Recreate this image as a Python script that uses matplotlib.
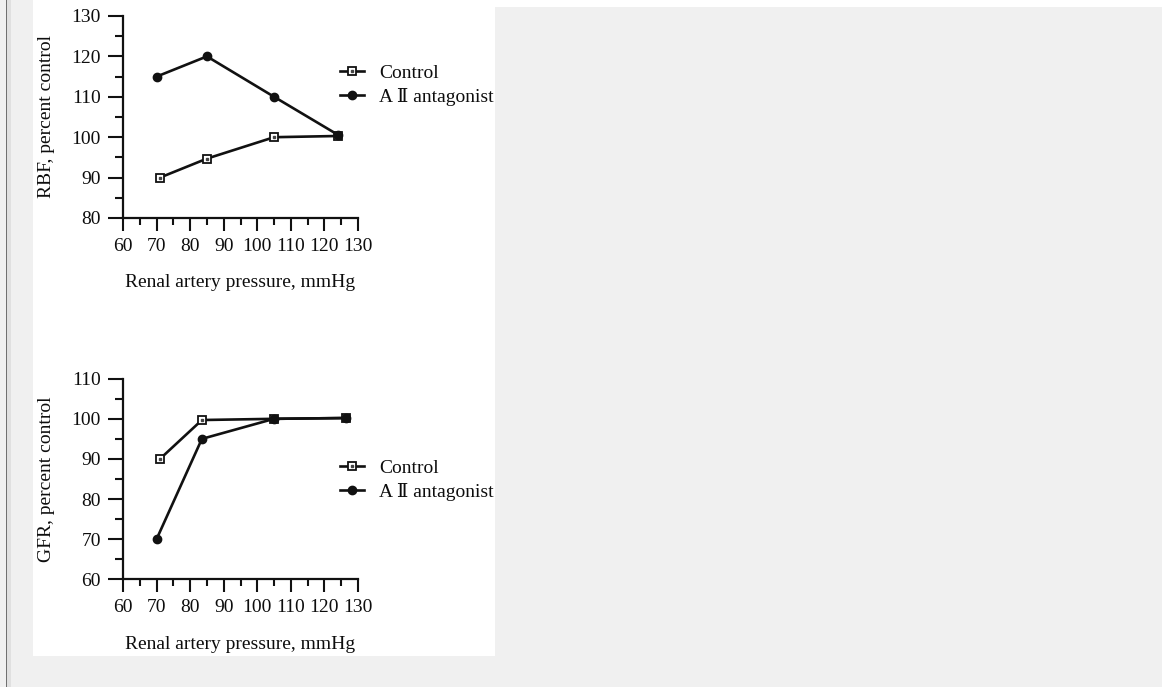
import matplotlib
matplotlib.use('Agg')
import matplotlib.pyplot as plt
from matplotlib.patches import Rectangle
from matplotlib.legend_handler import HandlerTuple
from matplotlib.ticker import MultipleLocator

plt.rcParams['font.family'] = ['Liberation Serif', 'DejaVu Serif', 'DejaVu Sans']

# ---------------- data ----------------
x_label = "Renal artery pressure, mmHg"
rbf_label = "RBF, percent control"
gfr_label = "GFR, percent control"
series_names = ["Control", "A \u2161 antagonist"]

rbf_pressure_control = [71, 85, 105, 124]
rbf_control = [90, 94.7, 100, 100.3]
rbf_pressure_antag = [70, 85, 105, 124]
rbf_antag = [115, 120, 110, 100.6]

gfr_pressure_control = [71, 83.5, 105, 126.5]
gfr_control = [90, 99.7, 100, 100.2]
gfr_pressure_antag = [70, 83.5, 105, 126.5]
gfr_antag = [70, 95, 100, 100.2]

x_range = (60, 130)
rbf_range = (80, 130)
gfr_range = (60, 110)

# ---------------- figure ----------------
W, H = 1162, 687
fig = plt.figure(figsize=(W / 100, H / 100), dpi=100)
fig.patch.set_facecolor('#f0f0f0')


def px_rect(x0, y0, x1, y1, color):
    fig.patches.append(Rectangle((x0 / W, 1 - y1 / H), (x1 - x0) / W, (y1 - y0) / H,
                                 transform=fig.transFigure, facecolor=color,
                                 edgecolor='none', zorder=-10))


px_rect(33, 0, 495, 656, 'white')
px_rect(495, 0, W, 7, 'white')
px_rect(6, 0, 7, H, '#707070')
px_rect(7, 0, 11, H, '#e0e0e0')

TXT = '#0d0d0d'
INK = '#111111'
FS = 14


def make_axes(top_px, bottom_px):
    left_px, right_px = 123, 358
    ax = fig.add_axes([left_px / W, 1 - bottom_px / H,
                       (right_px - left_px) / W, (bottom_px - top_px) / H])
    ax.set_facecolor('none')
    for s in ('top', 'right'):
        ax.spines[s].set_visible(False)
    for s in ('left', 'bottom'):
        ax.spines[s].set_linewidth(1.6)
        ax.spines[s].set_color(INK)
    ax.xaxis.set_major_locator(MultipleLocator(10))
    ax.xaxis.set_minor_locator(MultipleLocator(5))
    ax.yaxis.set_major_locator(MultipleLocator(10))
    ax.yaxis.set_minor_locator(MultipleLocator(5))
    ax.tick_params(axis='x', which='major', length=9.5, width=1.5, pad=5,
                   labelsize=FS, labelcolor=TXT, color=INK)
    ax.tick_params(axis='x', which='minor', length=5, width=1.5, color=INK)
    ax.tick_params(axis='y', which='major', length=11, width=1.5, pad=5,
                   labelsize=FS, labelcolor=TXT, color=INK)
    ax.tick_params(axis='y', which='minor', length=5.5, width=1.5, color=INK)
    return ax, (bottom_px - top_px)


def draw(ax, pc, vc, pa, va, yr, h_px, ylab, legend_center_px):
    ax.set_xlim(*x_range)
    ax.set_ylim(*yr)
    ln_c, = ax.plot(pc, vc, color=INK, lw=1.9, marker='s', ms=6.2,
                    mfc='white', mec=INK, mew=1.3, clip_on=False, zorder=3)
    dot_c, = ax.plot(pc, vc, ls='none', marker='s', ms=1.8, mfc='#444444',
                     mec='#444444', clip_on=False, zorder=4)
    ln_a, = ax.plot(pa, va, color=INK, lw=1.9, marker='o', ms=6,
                    mfc=INK, mec=INK, clip_on=False, zorder=5)
    ax.set_xlabel(x_label, fontsize=FS, color=TXT, va='center')
    ax.xaxis.set_label_coords(0.5, -65 / h_px)
    ax.set_ylabel(ylab, fontsize=FS, color=TXT, va='center')
    ax.yaxis.set_label_coords(-76 / 235, 0.5)
    ax.legend([(ln_c, dot_c), ln_a], series_names,
              handler_map={tuple: HandlerTuple(ndivide=1)},
              loc='center left',
              bbox_to_anchor=(340 / W, 1 - legend_center_px / H),
              bbox_transform=fig.transFigure, frameon=False,
              borderpad=0, borderaxespad=0, handlelength=1.25,
              handletextpad=0.75, labelspacing=0.3, numpoints=1,
              prop={'size': FS}, labelcolor=TXT)


ax1, h1 = make_axes(16, 218)
draw(ax1, rbf_pressure_control, rbf_control, rbf_pressure_antag, rbf_antag,
     rbf_range, h1, rbf_label, 85)

ax2, h2 = make_axes(378.7, 579.3)
draw(ax2, gfr_pressure_control, gfr_control, gfr_pressure_antag, gfr_antag,
     gfr_range, h2, gfr_label, 480.4)

fig.savefig('out.png', dpi=100, facecolor=fig.get_facecolor())
